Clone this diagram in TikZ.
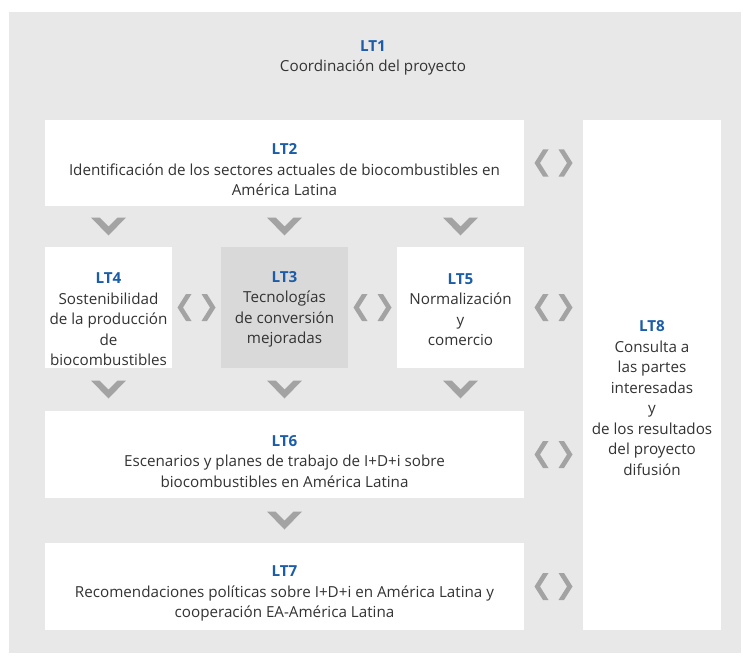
\documentclass[tikz,border=0pt]{standalone}
\usepackage{fontspec}
\setmainfont{Open Sans}
\usetikzlibrary{calc}
\definecolor{panel}{HTML}{E8E8E8}
\definecolor{darkbox}{HTML}{D9D9DA}
\definecolor{chevc}{HTML}{A3A3A3}
\definecolor{textc}{HTML}{333333}
\definecolor{ltblue}{HTML}{1B5DA8}
\newcommand{\lt}[1]{\textcolor{ltblue}{\bfseries #1}}
\begin{document}
\begin{tikzpicture}[x=1pt,y=-1pt,
  box/.style={fill=white, draw=none, inner sep=0pt, outer sep=0pt},
  txt/.style={align=center, inner sep=0pt, text=textc, font=\fontsize{15.2}{20.5}\selectfont},
  downchev/.pic={\fill[chevc] (-17.5,-9) -- (-9,-9) -- (0,0) -- (9,-9) -- (17.5,-9) -- (0,9) -- cycle;},
  lrchev/.pic={\fill[chevc] (-10.5,-13.5) -- (-5,-13.5) -- (-13.5,0) -- (-5,13.5) -- (-10.5,13.5) -- (-19,0) -- cycle;
               \fill[chevc] (10.5,-13.5) -- (5,-13.5) -- (13.5,0) -- (5,13.5) -- (10.5,13.5) -- (19,0) -- cycle;}
]
\useasboundingbox (0,0) rectangle (743,655);
\fill[white] (0,0) rectangle (743,655);
\node[fill=panel, inner sep=0pt, minimum width=732pt, minimum height=641pt] (panel) at (375,332.5) {};

% boxes
\node[box, minimum width=479pt, minimum height=86pt] (lt2) at (284.5,163) {};
\node[box, minimum width=127pt, minimum height=121pt] (lt4) at (108.5,307.5) {};
\node[box, fill=darkbox, minimum width=127pt, minimum height=121pt] (lt3) at (284.5,307.5) {};
\node[box, minimum width=127pt, minimum height=121pt] (lt5) at (460.5,307.5) {};
\node[box, minimum width=479pt, minimum height=87pt] (lt6) at (284.5,454.5) {};
\node[box, minimum width=479pt, minimum height=87pt] (lt7) at (284.5,586.5) {};
\node[box, minimum width=138pt, minimum height=510pt] (lt8) at (652,375) {};

% texts
\node[txt] (t1) at (373,58) {\lt{LT1}\\Coordinación del proyecto};
\node[txt] (t2) at ($(lt2.center)+(0,7)$) {\lt{LT2}\\Identificación de los sectores actuales de biocombustibles en\\América Latina};
\node[txt] (t4) at ($(lt4.center)+(0,12)$) {\lt{LT4}\\Sostenibilidad\\de la producción\\de\\biocombustibles};
\node[txt] (t3) at ($(lt3.center)+(0,2)$) {\lt{LT3}\\Tecnologías\\de conversión\\mejoradas};
\node[txt] (t5) at ($(lt5.center)+(0,2)$) {\lt{LT5}\\Normalización\\y\\comercio};
\node[txt] (t6) at ($(lt6.center)+(0,7)$) {\lt{LT6}\\Escenarios y planes de trabajo de I+D+i sobre\\biocombustibles en América Latina};
\node[txt] (t7) at ($(lt7.center)+(0,7)$) {\lt{LT7}\\Recomendaciones políticas sobre I+D+i en América Latina y\\cooperación EA-América Latina};
\node[txt] (t8) at ($(lt8.center)+(0,23)$) {\lt{LT8}\\Consulta a\\las partes\\interesadas\\y\\de los resultados\\del proyecto\\difusión};

% down chevrons
\foreach \c in {lt4,lt3,lt5} {
  \pic at ($(lt2.south -| \c.center)!0.5!(\c.north)$) {downchev};
  \pic at ($(\c.south)!0.5!(lt6.north -| \c.center)$) {downchev};
}
\pic at ($(lt6.south)!0.5!(lt7.north)$) {downchev};

% left-right chevrons
\pic at ($(lt4.east)!0.5!(lt3.west)$) {lrchev};
\pic at ($(lt3.east)!0.5!(lt5.west)$) {lrchev};
\pic at ($(lt5.east)!0.5!(lt8.west |- lt5.east)$) {lrchev};
\pic at ($(lt2.east)!0.5!(lt8.west |- lt2.east)$) {lrchev};
\pic at ($(lt6.east)!0.5!(lt8.west |- lt6.east)$) {lrchev};
\pic at ($(lt7.east)!0.5!(lt8.west |- lt7.east)$) {lrchev};
\end{tikzpicture}
\end{document}
